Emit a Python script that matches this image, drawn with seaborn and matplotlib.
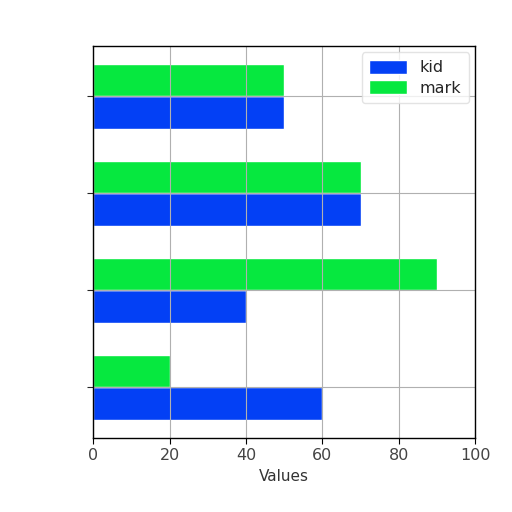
import pandas as pd
import matplotlib
matplotlib.use("Agg")
import matplotlib.pyplot as plt
import seaborn as sns

# categories listed from bottom to top
categories = ["A", "B", "C", "D"]
kid = [60, 40, 70, 50]
mark = [20, 90, 70, 50]

df = pd.DataFrame({
    "category": categories * 2,
    "value": kid + mark,
    "who": ["kid"] * 4 + ["mark"] * 4,
})

sns.set_style("white")
plt.rcParams["font.family"] = ["DejaVu Sans"]

fig = plt.figure(figsize=(5.12, 5.12), dpi=100)
ax = fig.add_axes([0.182, 0.145, 0.746, 0.765])

sns.barplot(data=df, x="value", y="category", hue="who", orient="h",
            order=categories, hue_order=["kid", "mark"],
            palette={"kid": "#0340f5", "mark": "#06e83f"},
            width=0.67, saturation=1, ax=ax)

ax.invert_yaxis()  # seaborn puts first category on top, we want it at the bottom
ax.set_ylim(-0.52, 3.52)
ax.set_xlim(0, 100)
ax.set_yticklabels([])
ax.set_ylabel("")
ax.set_xlabel("Values", fontsize=11, color="#333333")
ax.grid(True, color="#b0b0b0", linewidth=0.8)
ax.set_axisbelow(False)
for s in ax.spines.values():
    s.set_color("black")
    s.set_linewidth(1.0)
    s.set_zorder(5)
ax.tick_params(axis="x", labelsize=11.5, length=4, direction="out", bottom=True,
               colors="black", labelcolor="#444444")
ax.tick_params(axis="y", length=4, left=True)

leg = ax.legend(loc="upper right", fontsize=11.5, frameon=True, handlelength=2.4,
                handleheight=1.0, borderpad=0.45, labelspacing=0.3,
                borderaxespad=0.4)
leg.get_frame().set_edgecolor("#dddddd")
leg.set_zorder(6)

fig.savefig("out.png", dpi=100)
